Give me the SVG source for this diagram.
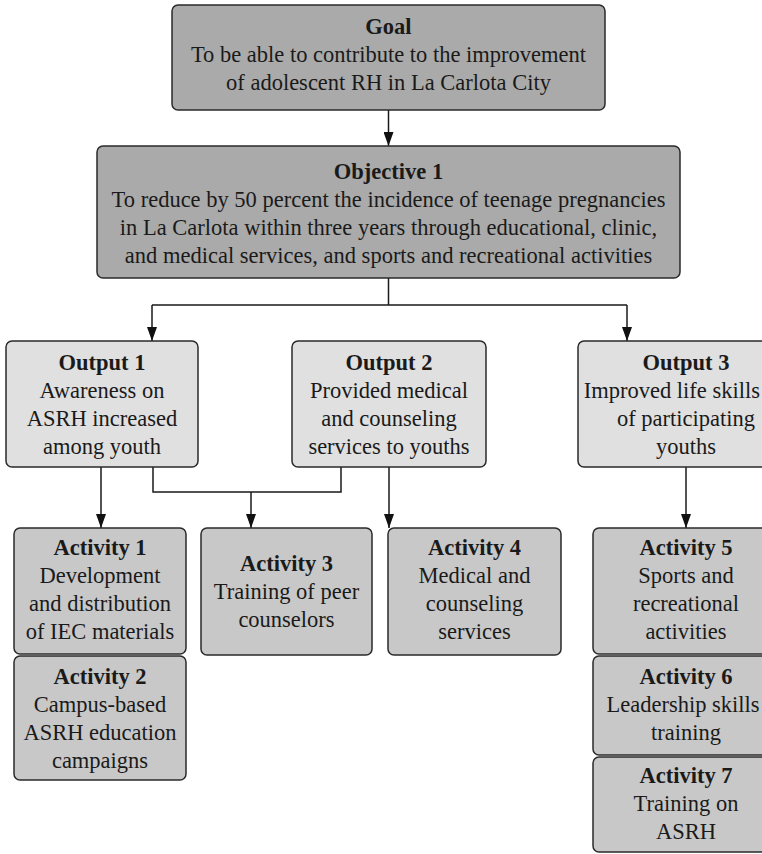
<svg xmlns="http://www.w3.org/2000/svg" width="762" height="854" viewBox="0 0 762 854">
<defs>
<marker id="arr" viewBox="0 0 14 10" refX="14" refY="5" markerWidth="14" markerHeight="10" markerUnits="userSpaceOnUse" orient="auto">
<path d="M0,0 L14,5 L0,10 Z" fill="#111"/>
</marker>
</defs>
<style>
rect{stroke:#2a2a2a;stroke-width:1.5}
.dark{fill:#aaaaaa}
.light{fill:#e0e0e0}
.mid{fill:#c8c8c8}
text{font-family:"Liberation Serif","Times New Roman",serif;font-size:22.5px;fill:#1a1a1a;text-anchor:middle}
.b{font-weight:bold}
.c path{fill:none;stroke:#1a1a1a;stroke-width:1.5}
</style>
<g class="c" id="connectors">
<path d="M388.5,110 V146" marker-end="url(#arr)"/>
<path d="M388.5,278 V305 M152,305 H627"/>
<path d="M152,305 V341" marker-end="url(#arr)"/>
<path d="M627,305 V341" marker-end="url(#arr)"/>
<path d="M101,467 V528" marker-end="url(#arr)"/>
<path d="M153,467 V492 H341 V467"/>
<path d="M251,492 V528" marker-end="url(#arr)"/>
<path d="M389,467 V528" marker-end="url(#arr)"/>
<path d="M686,467 V528" marker-end="url(#arr)"/>
</g>
<g id="goal">
<rect class="dark" x="172" y="5" width="433" height="105" rx="6"/>
<text x="388.5" y="34" class="b">Goal</text>
<text x="388.5" y="62">To be able to contribute to the improvement</text>
<text x="388.5" y="90">of adolescent RH in La Carlota City</text>
</g>
<g id="objective1">
<rect class="dark" x="97" y="146" width="583" height="132" rx="6"/>
<text x="388.5" y="179" class="b">Objective 1</text>
<text x="388.5" y="207">To reduce by 50 percent the incidence of teenage pregnancies</text>
<text x="388.5" y="235">in La Carlota within three years through educational, clinic,</text>
<text x="388.5" y="263">and medical services, and sports and recreational activities</text>
</g>
<g id="output1">
<rect class="light" x="6" y="341" width="192" height="126" rx="6"/>
<text x="102" y="370" class="b">Output 1</text>
<text x="102" y="398">Awareness on</text>
<text x="102" y="426">ASRH increased</text>
<text x="102" y="454">among youth</text>
</g>
<g id="output2">
<rect class="light" x="292" y="341" width="194" height="126" rx="6"/>
<text x="389" y="370" class="b">Output 2</text>
<text x="389" y="398">Provided medical</text>
<text x="389" y="426">and counseling</text>
<text x="389" y="454">services to youths</text>
</g>
<g id="output3">
<rect class="light" x="578" y="341" width="216" height="126" rx="6"/>
<text x="686" y="370" class="b">Output 3</text>
<text x="760" y="398" style="text-anchor:end">Improved life skills</text>
<text x="686" y="426">of participating</text>
<text x="686" y="454">youths</text>
</g>
<g id="activity1">
<rect class="mid" x="14" y="528" width="172" height="126" rx="6"/>
<text x="100" y="555" class="b">Activity 1</text>
<text x="100" y="583">Development</text>
<text x="100" y="611">and distribution</text>
<text x="100" y="639">of IEC materials</text>
</g>
<g id="activity2">
<rect class="mid" x="14" y="656" width="172" height="124" rx="6"/>
<text x="100" y="684" class="b">Activity 2</text>
<text x="100" y="712">Campus-based</text>
<text x="100" y="740">ASRH education</text>
<text x="100" y="768">campaigns</text>
</g>
<g id="activity3">
<rect class="mid" x="201" y="528" width="171" height="127" rx="6"/>
<text x="286.5" y="571" class="b">Activity 3</text>
<text x="286.5" y="599">Training of peer</text>
<text x="286.5" y="627">counselors</text>
</g>
<g id="activity4">
<rect class="mid" x="388" y="528" width="173" height="127" rx="6"/>
<text x="474.5" y="555" class="b">Activity 4</text>
<text x="474.5" y="583">Medical and</text>
<text x="474.5" y="611">counseling</text>
<text x="474.5" y="639">services</text>
</g>
<g id="activity5">
<rect class="mid" x="593" y="528" width="186" height="126" rx="6"/>
<text x="686" y="555" class="b">Activity 5</text>
<text x="686" y="583">Sports and</text>
<text x="686" y="611">recreational</text>
<text x="686" y="639">activities</text>
</g>
<g id="activity6">
<rect class="mid" x="593" y="656" width="186" height="99" rx="6"/>
<text x="686" y="684" class="b">Activity 6</text>
<text x="683" y="712">Leadership skills</text>
<text x="686" y="740">training</text>
</g>
<g id="activity7">
<rect class="mid" x="593" y="757" width="186" height="95" rx="6"/>
<text x="686" y="783" class="b">Activity 7</text>
<text x="686" y="811">Training on</text>
<text x="686" y="839">ASRH</text>
</g>
</svg>
